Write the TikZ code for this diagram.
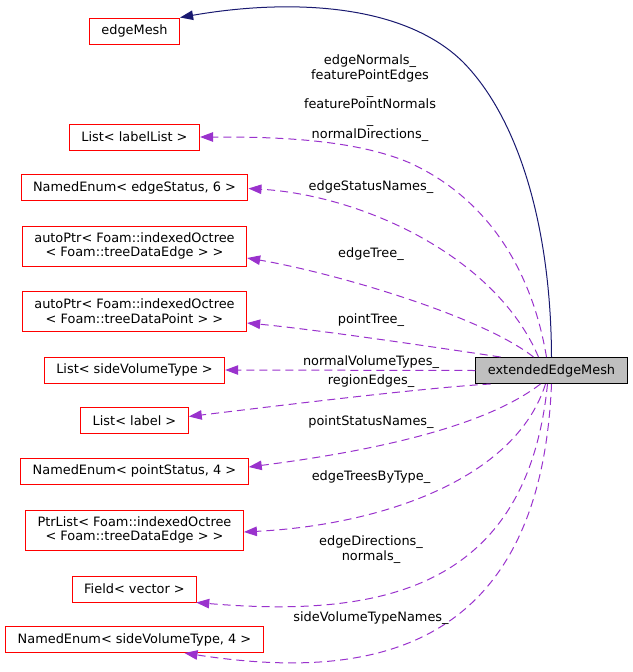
\documentclass[tikz,border=0pt]{standalone}
\usepackage{fontspec}
\setmainfont{DejaVu Sans}
\usetikzlibrary{arrows.meta}
\definecolor{boxred}{HTML}{FF0000}
\definecolor{orchid}{HTML}{9A32CD}
\definecolor{navy}{HTML}{191970}
\definecolor{boxgray}{HTML}{BFBFBF}
\tikzstyle{block} = [rectangle, draw=boxred, fill=white, text=black, line width=1pt, inner xsep=12pt, inner ysep=0pt, minimum height=26pt, align=center]
\tikzstyle{block2} = [block, minimum height=40pt]
\tikzstyle{focus} = [block, draw=black, fill=boxgray]
\tikzstyle{member} = [draw=orchid, line width=1pt, dash pattern=on 8pt off 5pt, -{Triangle[length=13pt, width=9.5pt]}]
\tikzstyle{inherit} = [draw=navy, line width=1pt, -{Triangle[length=13pt, width=9.5pt]}]
\tikzstyle{lbl} = [inner sep=0pt, align=center, text=black]

\begin{document}
\begin{tikzpicture}[x=1pt, y=-1pt, font=\fontsize{12.9}{14.7}\selectfont]
  \useasboundingbox (0,0) rectangle (632,672);
  \node [focus]  (eem)  at (551.5,370.5) {extendedEdgeMesh};
  \node [block]  (em)   at (134.5,31)    {edgeMesh};
  \node [block]  (ll)   at (134.5,137)   {List< labelList >};
  \node [block]  (es)   at (134.5,187.5) {NamedEnum< edgeStatus, 6 >};
  \node [block2] (et)   at (134.5,246)   {autoPtr< Foam::indexedOctree\\< Foam::treeDataEdge > >};
  \node [block2] (pt)   at (134.5,311)   {autoPtr< Foam::indexedOctree\\< Foam::treeDataPoint > >};
  \node [block]  (svt)  at (134.5,370)   {List< sideVolumeType >};
  \node [block]  (lab)  at (134.5,420.5) {List< label >};
  \node [block]  (ps)   at (134.5,471)   {NamedEnum< pointStatus, 4 >};
  \node [block2] (pl)   at (134.5,530)   {PtrList< Foam::indexedOctree\\< Foam::treeDataEdge > >};
  \node [block]  (fv)   at (134.5,589)   {Field< vector >};
  \node [block]  (svn)  at (134.5,639.5) {NamedEnum< sideVolumeType, 4 >};

  % base class
  \path [inherit] (eem.north) .. controls (551,230) and (520,120) .. (463,62)
                             .. controls (400,0) and (280,0) .. (em.north east);

  % members
  \path [member] ([xshift=-5pt]eem.north) .. controls (530,260) and (480,195) .. (410,163)
                                         .. controls (350,137) and (260,137) .. (ll.east);
  \path [member] ([xshift=-13pt]eem.north) .. controls (495,255) and (360,195) .. ([yshift=-1pt]es.east);
  \path [member] ([xshift=-18pt]eem.north) .. controls (480,315) and (330,272) .. ([yshift=-12pt]et.east);
  \path [member] ([xshift=-51pt]eem.north) .. controls (440,348) and (320,330) .. ([yshift=-12pt]pt.east);
  \path [member] (eem.west) -- (svt.east);
  \path [member] ([xshift=-61pt]eem.south) .. controls (420,388) and (260,408) .. ([yshift=4pt]lab.east);
  \path [member] ([xshift=-11pt]eem.south) .. controls (500,415) and (420,445) .. ([yshift=4pt]ps.east);
  \path [member] ([xshift=-6pt]eem.south) .. controls (515,480) and (380,525) .. ([yshift=-2pt]pl.east);
  \path [member] ([xshift=-4pt]eem.south) .. controls (527,590) and (380,618) .. ([xshift=-1pt]fv.south east);
  \path [member] (eem.south) .. controls (540,660) and (360,680) .. ([xshift=50pt]svn.south);

  \node [lbl] (l1)  at (370,98)  {edgeNormals\_\\featurePointEdges\\\_\\featurePointNormals\\\_\\normalDirections\_};
  \node [lbl] (l2)  at (371,187) {edgeStatusNames\_};
  \node [lbl] (l3)  at (371,254) {edgeTree\_};
  \node [lbl] (l4)  at (371,320) {pointTree\_};
  \node [lbl] (l5)  at (371,362) {normalVolumeTypes\_};
  \node [lbl] (l6)  at (371,381) {regionEdges\_};
  \node [lbl] (l7)  at (371,422) {pointStatusNames\_};
  \node [lbl] (l8)  at (371,477) {edgeTreesByType\_};
  \node [lbl] (l9)  at (371,549.5) {edgeDirections\_\\normals\_};
  \node [lbl] (l10) at (371,618) {sideVolumeTypeNames\_};
\end{tikzpicture}
\end{document}
